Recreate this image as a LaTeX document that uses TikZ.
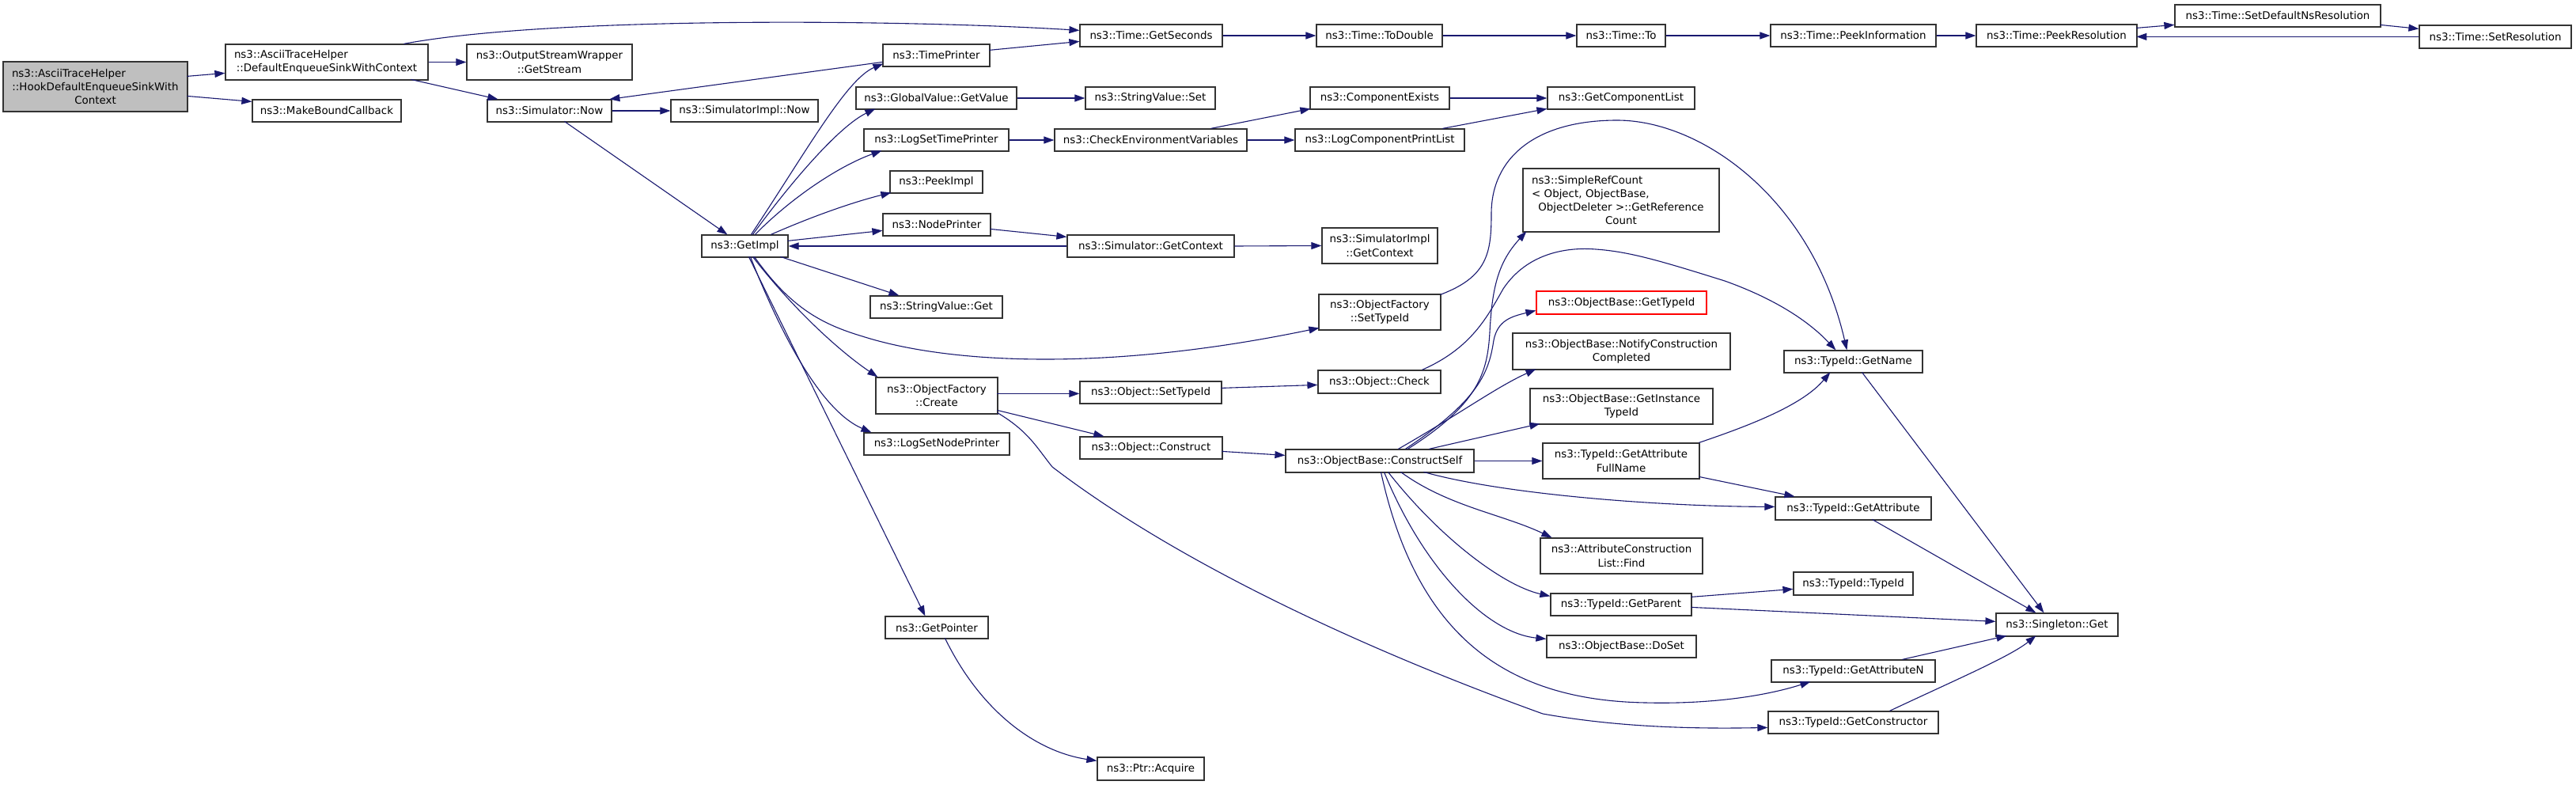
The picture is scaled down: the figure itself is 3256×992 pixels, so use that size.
\documentclass[tikz,border=0pt]{standalone}
\usepackage{fontspec}
\setmainfont{DejaVu Sans}
\usetikzlibrary{arrows.meta,calc}
\definecolor{edgec}{HTML}{191970}
\definecolor{bordc}{HTML}{333333}
\definecolor{hookfill}{HTML}{BFBFBF}
\newcommand\lft[1]{\makebox[\linewidth][l]{\hspace{11pt}#1}}
\newcommand\bx[7][]{%
  \pgfmathsetmacro\bxw{#5-#3}\pgfmathsetmacro\bxh{#6-#4}%
  \pgfmathsetmacro\bxcx{(#3+#5)/2}\pgfmathsetmacro\bxcy{(#4+#6)/2}%
  \node[box,#1,minimum width=\bxw pt,minimum height=\bxh pt,text width=\bxw pt] (#2) at (\bxcx,\bxcy) {#7};}
\begin{document}
\begin{tikzpicture}[x=1pt,y=-1pt,
  box/.style={draw=bordc,line width=1.2pt,fill=white,inner sep=0pt,align=center,
    font=\fontsize{13.4}{17.3}\selectfont},
  ed/.style={draw=edgec,line width=1.1pt,-{Triangle[length=13pt,width=9pt]}}]
\fill[white] (0,0) rectangle (3256,992);
\useasboundingbox (0,0) rectangle (3256,992);
% nodes
\bx[fill=hookfill]{hook}{4}{78}{237}{141}{\lft{ns3::AsciiTraceHelper}\\::HookDefaultEnqueueSinkWith\\Context}
\bx{dese}{285}{56}{541}{101}{\lft{ns3::AsciiTraceHelper}\\::DefaultEnqueueSinkWithContext}
\bx{mbc}{319}{126}{507}{154}{ns3::MakeBoundCallback}
\bx{gstream}{590}{56}{799}{101}{ns3::OutputStreamWrapper\\::GetStream}
\bx{snow}{616}{126}{773}{154}{ns3::Simulator::Now}
\bx{sinow}{848}{126}{1034}{154}{ns3::SimulatorImpl::Now}
\bx{gsec}{1365}{31}{1545}{59}{ns3::Time::GetSeconds}
\bx{tprint}{1116}{56}{1251}{84}{ns3::TimePrinter}
\bx{gval}{1082}{110}{1285}{138}{ns3::GlobalValue::GetValue}
\bx{svset}{1372}{110}{1536}{138}{ns3::StringValue::Set}
\bx{lstp}{1092}{163}{1275}{191}{ns3::LogSetTimePrinter}
\bx{cenv}{1333}{163}{1576}{191}{ns3::CheckEnvironmentVariables}
\bx{peek}{1125}{216}{1242}{244}{ns3::PeekImpl}
\bx{nprint}{1116}{270}{1252}{298}{ns3::NodePrinter}
\bx{getimpl}{887}{297}{996}{325}{ns3::GetImpl}
\bx{sgctx}{1349}{297}{1560}{325}{ns3::Simulator::GetContext}
\bx{svget}{1100}{374}{1267}{402}{ns3::StringValue::Get}
\bx{ofcreate}{1107}{477}{1261}{523}{ns3::ObjectFactory\\::Create}
\bx{osettid}{1365}{482}{1544}{510}{ns3::Object::SetTypeId}
\bx{lsnp}{1092}{547}{1276}{575}{ns3::LogSetNodePrinter}
\bx{oconstr}{1365}{552}{1545}{580}{ns3::Object::Construct}
\bx{cexists}{1656}{110}{1832}{138}{ns3::ComponentExists}
\bx{gclist}{1956}{110}{2142}{138}{ns3::GetComponentList}
\bx{lcpl}{1637}{163}{1851}{191}{ns3::LogComponentPrintList}
\bx{todbl}{1664}{31}{1823}{59}{ns3::Time::ToDouble}
\bx{tto}{1993}{31}{2105}{59}{ns3::Time::To}
\bx{pinfo}{2238}{31}{2447}{59}{ns3::Time::PeekInformation}
\bx{pres}{2498}{31}{2701}{59}{ns3::Time::PeekResolution}
\bx{sdns}{2749}{6}{3009}{34}{ns3::Time::SetDefaultNsResolution}
\bx{sres}{3058}{32}{3250}{61}{ns3::Time::SetResolution}
\bx{src}{1925}{213}{2173}{293}{\lft{ns3::SimpleRefCount}\\\lft{< Object, ObjectBase,}\\\mbox{ObjectDeleter >::GetReference}\\Count}
\bx{sigctx}{1671}{288}{1817}{333}{ns3::SimulatorImpl\\::GetContext}
\bx{ofsettid}{1667}{372}{1821}{417}{ns3::ObjectFactory\\::SetTypeId}
\bx[draw=red]{gtid}{1942}{368}{2157}{397}{ns3::ObjectBase::GetTypeId}
\bx{ncc}{1912}{421}{2187}{467}{ns3::ObjectBase::NotifyConstruction\\Completed}
\bx{ocheck}{1666}{468}{1821}{497}{ns3::Object::Check}
\bx{gitid}{1934}{491}{2165}{536}{ns3::ObjectBase::GetInstance\\TypeId}
\bx{cself}{1625}{568}{1863}{597}{ns3::ObjectBase::ConstructSelf}
\bx{gafn}{1950}{560}{2148}{605}{ns3::TypeId::GetAttribute\\FullName}
\bx{tgname}{2255}{443}{2430}{471}{ns3::TypeId::GetName}
\bx{gattr}{2244}{628}{2441}{657}{ns3::TypeId::GetAttribute}
\bx{acfind}{1947}{680}{2152}{725}{ns3::AttributeConstruction\\List::Find}
\bx{gparent}{1960}{750}{2138}{778}{ns3::TypeId::GetParent}
\bx{doset}{1955}{803}{2144}{831}{ns3::ObjectBase::DoSet}
\bx{tidtid}{2267}{723}{2418}{752}{ns3::TypeId::TypeId}
\bx{sget}{2523}{775}{2677}{804}{ns3::Singleton::Get}
\bx{gattrn}{2239}{834}{2446}{862}{ns3::TypeId::GetAttributeN}
\bx{gctor}{2235}{899}{2450}{927}{ns3::TypeId::GetConstructor}
\bx{gptr}{1119}{779}{1249}{807}{ns3::GetPointer}
\bx{pacq}{1387}{957}{1522}{986}{ns3::Ptr::Acquire}
% edges
\draw[ed] ($(hook.north west)+(233,19)$) -- ($(dese.north west)+(0,37)$);
\draw[ed] ($(hook.north west)+(233,44)$) -- ($(mbc.north west)+(0,3)$);
\draw[ed] ($(dese.north west)+(226,0)$) .. controls (700,20) and (1150,25) .. ($(gsec.north west)+(0,8)$);
\draw[ed] (dese.east) -- (gstream.west);
\draw[ed] ($(dese.north west)+(235,45)$) -- ($(snow.north west)+(14,0)$);
\draw[ed] (snow.east) -- (sinow.west);
\draw[ed] ($(snow.north west)+(98,28)$) -- ($(getimpl.north west)+(33,0)$);
\draw[ed] ($(tprint.north west)+(0,23)$) -- ($(snow.north west)+(155,0)$);
\draw[ed] ($(tprint.north west)+(135,8)$) -- ($(gsec.north west)+(0,22)$);
\draw[ed] ($(getimpl.north west)+(63,0)$) .. controls (1020,190) and (1070,100) .. ($(tprint.north west)+(1,25)$);
\draw[ed] ($(getimpl.north west)+(65,0)$) .. controls (1000,230) and (1060,160) .. ($(gval.north west)+(25,28)$);
\draw[ed] ($(getimpl.north west)+(68,0)$) .. controls (1000,250) and (1060,210) .. ($(lstp.north west)+(23,28)$);
\draw[ed] ($(getimpl.north west)+(88,0)$) .. controls (1030,272) and (1080,255) .. ($(peek.north west)+(2,28)$);
\draw[ed] ($(getimpl.north west)+(109,8)$) -- ($(nprint.north west)+(0,22)$);
\draw[ed] (sgctx.west) -- (getimpl.east);
\draw[ed] ($(nprint.north west)+(136,20)$) -- ($(sgctx.north west)+(0,3)$);
\draw[ed] (sgctx.east) -- (sigctx.west);
\draw[ed] ($(getimpl.north west)+(100,28)$) -- ($(svget.north west)+(37,0)$);
\draw[ed] ($(getimpl.north west)+(67,28)$) .. controls (1000,390) and (1040,410) .. (1090,425) .. controls (1200,460) and (1400,470) .. ($(ofsettid.north west)+(1,43)$);
\draw[ed] ($(getimpl.north west)+(65,28)$) .. controls (1010,400) and (1070,450) .. ($(ofcreate.north west)+(3,0)$);
\draw[ed] ($(getimpl.north west)+(62,28)$) .. controls (990,430) and (1040,520) .. ($(lsnp.north west)+(10,0)$);
\draw[ed] ($(getimpl.north west)+(60,28)$) -- ($(gptr.north west)+(51,0)$);
\draw[ed] (gval.east) -- (svset.west);
\draw[ed] (lstp.east) -- (cenv.west);
\draw[ed] ($(cenv.north west)+(198,0)$) -- ($(cexists.north west)+(1,28)$);
\draw[ed] (cenv.east) -- (lcpl.west);
\draw[ed] (cexists.east) -- (gclist.west);
\draw[ed] ($(lcpl.north west)+(187,0)$) -- ($(gclist.north west)+(0,28)$);
\draw[ed] (gsec.east) -- (todbl.west);
\draw[ed] (todbl.east) -- (tto.west);
\draw[ed] (tto.east) -- (pinfo.west);
\draw[ed] (pinfo.east) -- (pres.west);
\draw[ed] ($(pres.north west)+(203,5)$) -- ($(sdns.north west)+(0,26)$);
\draw[ed] ($(sdns.north west)+(260,26)$) -- ($(sres.north west)+(0,5)$);
\draw[ed] ($(sres.north west)+(0,15)$) -- ($(pres.north west)+(203,16)$);
\draw[ed] ($(ofsettid.north west)+(154,1)$) .. controls (1880,350) and (1885,320) .. (1885,270) .. controls (1885,200) and (1940,152) .. (2044,152) .. controls (2150,152) and (2290,250) .. ($(tgname.north west)+(80,0)$);
\draw[ed] ($(ocheck.north west)+(132,0)$) .. controls (1860,440) and (1880,400) .. (1900,365) .. controls (1930,320) and (1980,312) .. (2017,315) .. controls (2060,318) and (2100,330) .. (2180,355) .. controls (2250,380) and (2290,410) .. ($(tgname.north west)+(66,0)$);
\draw[ed] ($(gafn.north west)+(198,0)$) .. controls (2220,535) and (2280,510) .. ($(tgname.north west)+(59,28)$);
\draw[ed] ($(cself.north west)+(155,0)$) .. controls (1870,510) and (1880,470) .. (1883,420) .. controls (1886,360) and (1895,330) .. ($(src.north west)+(5,80)$);
\draw[ed] ($(cself.north west)+(152,0)$) .. controls (1870,505) and (1882,470) .. (1888,430) .. controls (1893,405) and (1910,400) .. ($(gtid.north west)+(0,25)$);
\draw[ed] ($(cself.north west)+(143,0)$) .. controls (1850,520) and (1890,490) .. ($(ncc.north west)+(30,46)$);
\draw[ed] ($(cself.north west)+(182,0)$) -- ($(gitid.north west)+(13,45)$);
\draw[ed] (cself.east) -- (gafn.west);
\draw[ed] ($(cself.north west)+(175,29)$) .. controls (1900,625) and (2100,640) .. ($(gattr.north west)+(0,13)$);
\draw[ed] ($(cself.north west)+(146,29)$) .. controls (1830,640) and (1900,650) .. ($(acfind.north west)+(15,0)$);
\draw[ed] ($(cself.north west)+(130,29)$) .. controls (1820,680) and (1900,740) .. ($(gparent.north west)+(0,4)$);
\draw[ed] ($(cself.north west)+(125,29)$) .. controls (1800,720) and (1880,800) .. ($(doset.north west)+(0,5)$);
\draw[ed] ($(cself.north west)+(121,29)$) .. controls (1790,800) and (1900,885) .. (2080,888) .. controls (2160,890) and (2230,880) .. ($(gattrn.north west)+(50,28)$);
\draw[ed] ($(gafn.north west)+(198,43)$) -- ($(gattr.north west)+(25,0)$);
\draw[ed] ($(gparent.north west)+(178,5)$) -- ($(tidtid.north west)+(0,22)$);
\draw[ed] ($(gparent.north west)+(178,18)$) -- ($(sget.north west)+(0,11)$);
\draw[ed] ($(tgname.north west)+(99,28)$) -- ($(sget.north west)+(61,0)$);
\draw[ed] ($(gattr.north west)+(123,29)$) -- ($(sget.north west)+(51,0)$);
\draw[ed] ($(gattrn.north west)+(166,0)$) -- ($(sget.north west)+(14,29)$);
\draw[ed] ($(gctor.north west)+(154,0)$) .. controls (2470,860) and (2540,830) .. ($(sget.north west)+(51,29)$);
\draw[ed] ($(ofcreate.north west)+(154,21)$) -- ($(osettid.north west)+(0,16)$);
\draw[ed] ($(ofcreate.north west)+(154,42)$) -- ($(oconstr.north west)+(31,0)$);
\draw[ed] ($(ofcreate.north west)+(154,45)$) .. controls (1300,545) and (1310,565) .. (1330,590) .. controls (1500,720) and (1750,830) .. (1950,902) .. controls (2050,920) and (2150,921) .. ($(gctor.north west)+(0,21)$);
\draw[ed] ($(osettid.north west)+(179,9)$) -- ($(ocheck.north west)+(0,19)$);
\draw[ed] ($(oconstr.north west)+(180,19)$) -- ($(cself.north west)+(0,8)$);
\draw[ed] ($(gptr.north west)+(76,28)$) .. controls (1240,900) and (1310,950) .. ($(pacq.north west)+(0,5)$);
\end{tikzpicture}
\end{document}
